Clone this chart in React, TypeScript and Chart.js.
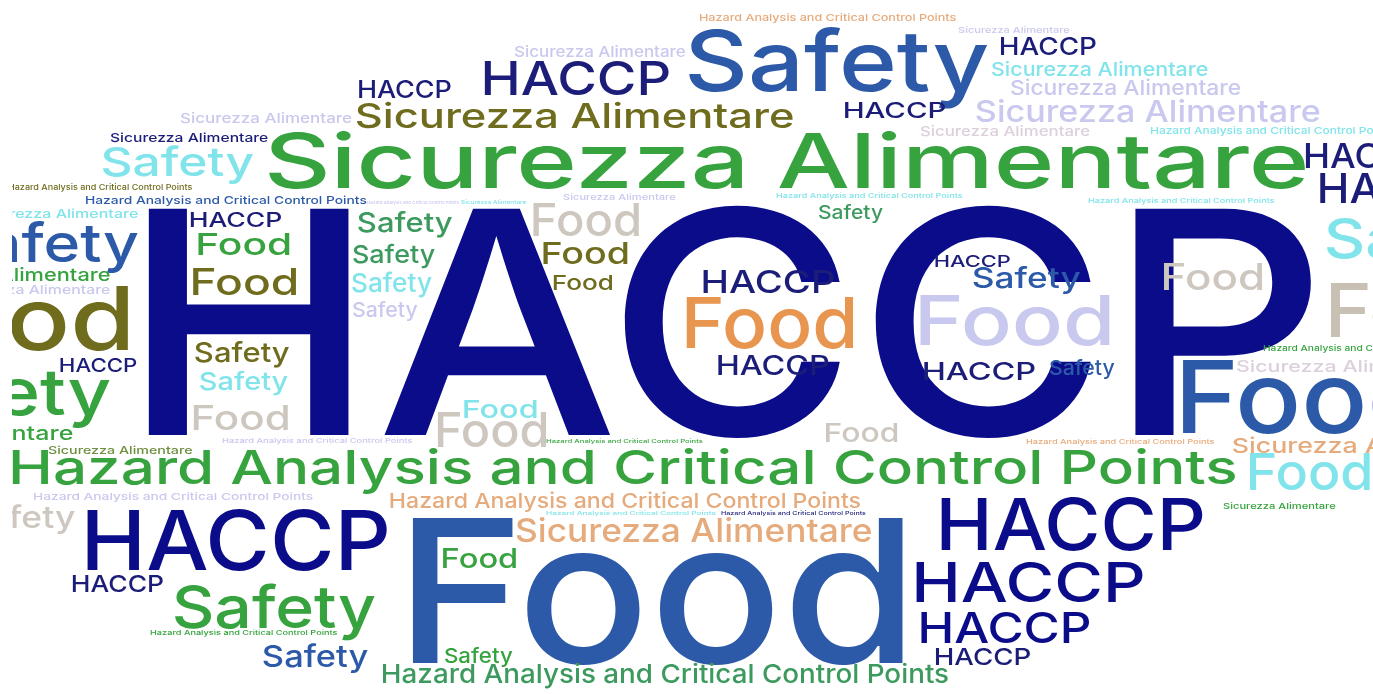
import React, { useEffect, useRef } from "react";
import { Chart, registerables } from "chart.js";

Chart.register(...registerables);

const W_H = "HACCP";
const W_F = "Food";
const W_S = "Safety";
const W_SA = "Sicurezza Alimentare";
const W_HA = "Hazard Analysis and Critical Control Points";

// words of the cloud
const words: string[] = [
  W_HA, W_SA, W_SA, W_H, W_S, W_H, W_SA, W_SA, W_SA, W_H,
  W_SA, W_H, W_SA, W_HA, W_SA, W_SA, W_S, W_SA, W_H, W_H,
  W_HA, W_HA, W_HA, W_SA, W_SA, W_HA, W_HA, W_S, W_SA, W_H,
  W_S, W_F, W_S, W_SA, W_SA, W_F, W_H, W_S, W_SA, W_SA,
  W_HA, W_F, W_S, W_S, W_F, W_F, W_S, W_S, W_S, W_F,
  W_F, W_HA, W_HA, W_F, W_F, W_H, W_F, W_H, W_F, W_H,
  W_S, W_F, W_H, W_S, W_F, W_F, W_S, W_HA, W_SA, W_F,
  W_HA, W_SA, W_F, W_SA, W_H, W_H, W_H, W_H, W_HA, W_S,
  W_F, W_F, W_SA, W_HA, W_HA, W_HA, W_HA, W_S, W_H, W_H,
  W_S, W_HA, W_S, W_H,
];

// horizontal centre of each word (cloud layout units)
const posX: number[] = [
  827.5, 1014, 600, 576.5, 838.5, 1048, 1099.5, 1126, 1148, 404.5,
  574.5, 894.5, 1005, 1272, 266, 189, 178, 786.5, 1367.5, 1395,
  100.5, 226, 413.5, 493.5, 619.5, 869.5, 1181.5, 850.5, 57, 236,
  405.5, 586, 43, 0, 30, 10.5, 98.5, -5, -53.5, 120,
  623.5, 240.5, 242.5, 244, 244, 244.5, 394, 392, 385.5, 492,
  500, 317.5, 624.5, 585.5, 583, 768.5, 770, 773.5, 862, 972.5,
  1026.5, 1015, 979, 1082.5, 1213, 1420.5, 1424, 1367.5, 1344, 1305.5,
  1120.5, 1368, 1310, 1279.5, 1072, 1029.5, 1005.5, 982.5, 665.5, 479,
  658, 479.5, 693.5, 625.5, 631, 793.5, 173, 21, 237, 117.5,
  275, 244, 315.5, 729.5,
];

// baseline of each word (cloud layout units, top = 0)
const posY: number[] = [
  21, 33, 57, 95, 91, 55, 76, 95, 122, 98,
  128, 118, 136, 134, 123, 142, 176, 188, 168, 203,
  190, 204, 204, 204, 200, 198, 203, 219, 218, 227,
  232, 236, 262, 281, 294, 350, 372, 415, 440, 454,
  484, 430, 362, 390, 255, 295, 263, 292, 317, 447,
  418, 443, 443, 264, 290, 293, 348, 375, 442, 267,
  288, 345, 380, 375, 290, 337, 258, 351, 372, 433,
  444, 453, 490, 509, 550, 602, 643, 665, 683, 663,
  663, 568, 542, 508, 515, 515, 500, 528, 570, 592,
  628, 635, 667, 435,
];

// weight of each word (capital height)
const weight: number[] = [
  7, 6, 11, 34, 61, 18, 14, 15, 22, 18,
  25, 16, 10, 7, 10, 9, 29, 55, 25, 30,
  6, 8, 3, 4, 6, 5, 5, 14, 9, 15,
  20, 33, 39, 13, 9, 64, 14, 47, 14, 8,
  34, 25, 20, 18, 22, 27, 18, 19, 15, 35,
  18, 5, 4, 22, 15, 23, 51, 20, 19, 12,
  21, 50, 18, 15, 27, 54, 40, 6, 12, 73,
  5, 15, 37, 6, 52, 40, 31, 17, 19, 15,
  145, 20, 24, 15, 4, 4, 7, 22, 60, 17,
  43, 5, 22, 227,
];

// extent of each word along x
const spanX: number[] = [
  257, 112, 172, 185, 299, 96, 217, 230, 344, 93,
  437, 101, 170, 244, 172, 158, 150, 1037, 125, 150,
  185, 282, 93, 65, 113, 187, 187, 65, 162, 92,
  95, 106, 190, 220, 160, 235, 77, 230, 253, 144,
  1223, 95, 95, 88, 92, 105, 82, 80, 65, 110,
  74, 191, 157, 85, 60, 131, 168, 111, 72, 75,
  107, 190, 112, 65, 100, 181, 196, 209, 216, 245,
  189, 270, 120, 113, 262, 227, 169, 95, 565, 68,
  490, 73, 355, 471, 170, 145, 280, 108, 300, 91,
  200, 188, 105, 1163,
];

// palette index of each word
const tone: number[] = [
  8, 5, 5, 13, 1, 13, 4, 5, 5, 13,
  3, 13, 10, 4, 5, 13, 4, 2, 13, 13,
  3, 1, 5, 4, 5, 4, 4, 9, 4, 13,
  9, 6, 1, 2, 5, 3, 13, 2, 2, 11,
  2, 6, 3, 4, 2, 3, 9, 4, 5, 6,
  4, 5, 2, 3, 3, 13, 7, 13, 6, 13,
  1, 5, 13, 1, 6, 12, 4, 2, 10, 1,
  8, 8, 4, 2, 0, 0, 0, 13, 9, 2,
  1, 2, 8, 8, 4, 13, 5, 6, 0, 13,
  2, 2, 1, 0,
];

const palette: string[] = [
  "#0b0c8a", // 0 navy
  "#2c5aa8", // 1 blue
  "#36a33e", // 2 green
  "#6f6c1e", // 3 olive
  "#80e4ea", // 4 cyan
  "#c9c8ee", // 5 lavender
  "#cdc7bf", // 6 grey
  "#e8954f", // 7 orange
  "#e6ab7c", // 8 tan
  "#3d9a5e", // 9 teal green
  "#dcd0dc", // 10 pink lavender
  "#6d8f3e", // 11 olive green
  "#c8c0b2", // 12 beige
  "#1b1d78", // 13 dark navy
];

const FONT_FAMILY = "Inter, 'Open Sans', 'DejaVu Sans', sans-serif";
const FONT_WEIGHT = 500;
const CLIP_LEFT = 12;
const CANVAS_W = 1373;
const CANVAS_H = 694;

const wordPlugin = {
  id: "wordCloudText",
  afterDatasetsDraw(chart: any) {
    const ctx: CanvasRenderingContext2D = chart.ctx;
    const meta = chart.getDatasetMeta(0);
    const area = chart.chartArea;
    ctx.save();
    ctx.beginPath();
    ctx.rect(area.left, 0, area.right - area.left, chart.height);
    ctx.clip();
    ctx.font = `${FONT_WEIGHT} 100px ${FONT_FAMILY}`;
    const capRatio = ctx.measureText("H").actualBoundingBoxAscent / 100 || 0.714;
    const order = weight.map((_, i) => i).sort((a, b) => weight[b] - weight[a]);
    for (const i of order) {
      const el = meta.data[i];
      if (!el) continue;
      const size = weight[i] / capRatio;
      ctx.font = `${FONT_WEIGHT} ${size}px ${FONT_FAMILY}`;
      ctx.textAlign = "left";
      ctx.textBaseline = "alphabetic";
      const m = ctx.measureText(words[i]);
      const inkW = m.actualBoundingBoxLeft + m.actualBoundingBoxRight;
      const targetW = chart.scales.x.getPixelForValue(spanX[i]) - chart.scales.x.getPixelForValue(0);
      const sx = inkW > 0 ? targetW / inkW : 1;
      ctx.save();
      ctx.translate(el.x, el.y);
      ctx.scale(sx, 1);
      ctx.fillStyle = palette[tone[i]];
      ctx.fillText(words[i], m.actualBoundingBoxLeft - inkW / 2, 0);
      ctx.restore();
    }
    ctx.restore();
  },
};

export default function App() {
  const canvasRef = useRef<HTMLCanvasElement | null>(null);

  useEffect(() => {
    if (!canvasRef.current) return;
    const chart = new Chart(canvasRef.current, {
      type: "scatter",
      data: {
        datasets: [
          {
            label: "words",
            data: words.map((_, i) => ({ x: posX[i], y: posY[i] })),
            pointRadius: 0,
            pointHoverRadius: 0,
          },
        ],
      },
      options: {
        animation: false,
        responsive: true,
        maintainAspectRatio: false,
        layout: { padding: { left: CLIP_LEFT, right: 0, top: 0, bottom: 0 } },
        plugins: {
          legend: { display: false },
          tooltip: { enabled: false },
          title: { display: false },
        },
        events: [],
        scales: {
          x: { type: "linear", min: CLIP_LEFT, max: CANVAS_W, display: false },
          y: { type: "linear", min: 0, max: CANVAS_H, reverse: true, display: false },
        },
      },
      plugins: [wordPlugin],
    });
    return () => chart.destroy();
  }, []);

  return (
    <div
      style={{
        position: "absolute",
        left: 0,
        top: 0,
        width: CANVAS_W,
        height: CANVAS_H,
        background: "#ffffff",
      }}
    >
      <canvas ref={canvasRef} />
    </div>
  );
}
